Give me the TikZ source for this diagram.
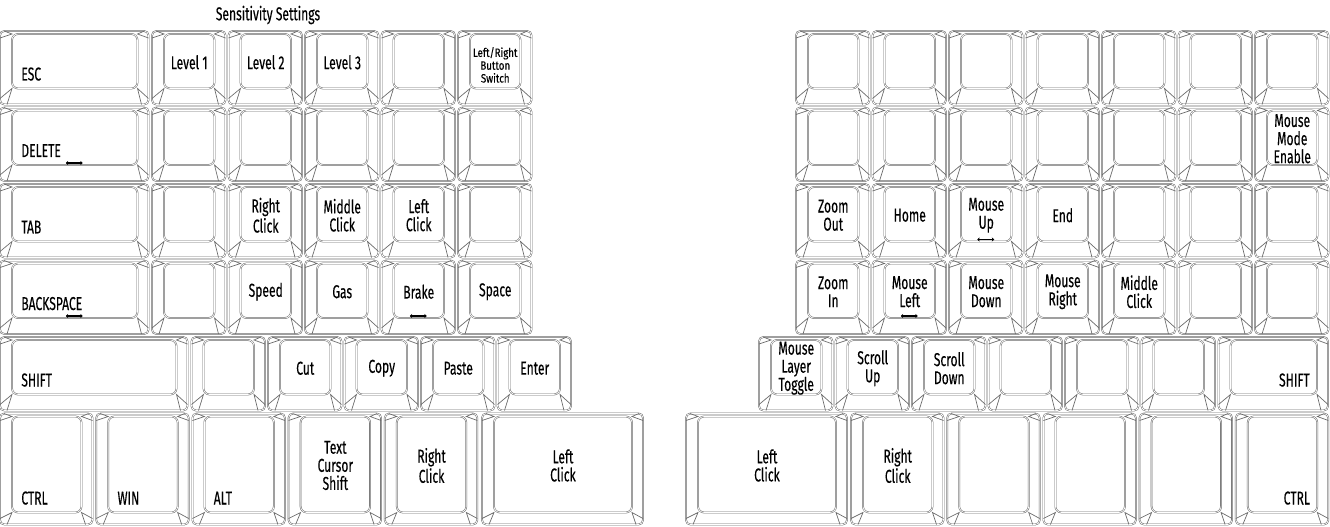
\documentclass[tikz,border=0pt]{standalone}
\usepackage{fontspec}
\setmainfont{Fira Sans}[FakeStretch=0.65, FakeBold=0.3]
\newfontfamily\tinyface{Fira Sans}[FakeStretch=0.8, FakeBold=0.25]
\usetikzlibrary{calc, arrows.meta}

\definecolor{keyline}{gray}{0.42}
\newcommand{\keyfont}{\fontsize{10.6}{10.3}\selectfont}
\newcommand{\tinykeyfont}{\tinyface\fontsize{6.9}{7.3}\selectfont}
\newcommand{\capdrop}{16}

\tikzset{
  capshell/.style={draw=keyline, line width=0.3pt, double=white, double distance=0.4pt,
    rounded corners=2.5pt, inner sep=0pt, outer sep=0pt},
  captop/.style={draw=keyline, line width=0.3pt, double=white, double distance=0.4pt,
    rounded corners=3.5pt},
  capedge/.style={draw=keyline, line width=0.4pt},
  captext/.style={font=\keyfont, align=center, inner sep=0pt},
  homebar/.style={draw=black, line width=0.6pt,
    {Stealth[length=1.4pt,width=2.4pt]}-{Stealth[length=1.4pt,width=2.4pt]}},
}

% one keycap: name, left, top, width, height (in px of the sheet)
\newcommand{\keycap}[5]{%
  \node[capshell, minimum width=#4*0.02cm, minimum height=#5*0.02cm] (#1) at ({#2+#4/2},{#3+#5/2}) {};
  \coordinate (#1tl) at ($(#1.north west)+(12,3)$);
  \coordinate (#1br) at ($(#1.south east)+(-11,-\capdrop)$);
  \draw[captop] (#1tl) rectangle (#1br);
  \draw[capedge] ($(#1.north west)+(0,7)$) -- (#1tl) -- ($(#1.north west)+(4,0)$);
  \draw[capedge] ($(#1.north east)+(0,7)$) -- (#1tl -| #1br) -- ($(#1.north east)+(-4,0)$);
  \draw[capedge] ($(#1.south west)+(0,-6)$) -- (#1tl |- #1br) -- ($(#1.south west)+(7,0)$);
  \draw[capedge] ($(#1.south east)+(0,-6)$) -- (#1br) -- ($(#1.south east)+(-7,0)$);
}
\newcommand{\capmid}[3][]{\node[captext,#1] (#2txt) at ($(#2tl)!0.5!(#2br)+(0,1)$) {#3};}
\newcommand{\capleft}[2]{\node[captext, anchor=base west] (#1txt) at ($(#1.south west)+(21,-\capdrop-8)$) {#2};}
\newcommand{\capright}[2]{\node[captext, anchor=base east] (#1txt) at ($(#1.south east)+(-18,-\capdrop-8)$) {#2};}
\newcommand{\capbar}[1]{\draw[homebar] ($(#1.south)+(-8.5,-18)$) -- ($(#1.south)+(8.5,-18)$);}

\begin{document}
\begin{tikzpicture}[x=0.02cm, y=-0.02cm]
  \useasboundingbox (0,0) rectangle (1330,527);

  % Left half, rows 1-4
  \foreach \r in {0,...,3} {
    \keycap{L\r0}{0}{31+76.5*\r}{148.5}{73.5}
    \foreach \c in {1,...,5} {\keycap{L\r\c}{152+76.5*(\c-1)}{31+76.5*\r}{73.5}{73.5}}
  }
  % Left half, shift row
  \keycap{L40}{0}{337}{187.5}{73.5}
  \foreach \c in {1,...,5} {\keycap{L4\c}{191.5+76.5*(\c-1)}{337}{73.5}{73.5}}
  % Left half, bottom row
  \renewcommand{\capdrop}{12}
  \foreach \c in {0,...,4} {\keycap{L5\c}{96.2*\c}{413.5}{92.5}{111}}
  \keycap{L55}{482}{413.5}{161}{111}
  \renewcommand{\capdrop}{16}

  % Right half, rows 1-4
  \foreach \r in {0,...,3} {
    \foreach \c in {0,...,6} {\keycap{R\r\c}{796+76.5*\c}{31+76.5*\r}{73.5}{73.5}}
  }
  % Right half, shift row
  \foreach \c in {0,...,5} {\keycap{R4\c}{759+76.5*\c}{337}{73.5}{73.5}}
  \keycap{R46}{1218.5}{337}{109.5}{73.5}
  % Right half, bottom row
  \renewcommand{\capdrop}{12}
  \keycap{R50}{686}{413.5}{161}{111}
  \foreach \c in {1,...,5} {\keycap{R5\c}{851+96.2*(\c-1)}{413.5}{92.5}{111}}
  \renewcommand{\capdrop}{16}

  % Labels, left half
  \node[captext] (title) at (268,15) {Sensitivity Settings};
  \capleft{L00}{ESC}
  \capmid{L01}{Level 1}
  \capmid{L02}{Level 2}
  \capmid{L03}{Level 3}
  \capmid[font=\tinykeyfont, yshift=-1.5pt]{L05}{Left/Right\\Button\\Switch}
  \capleft{L10}{DELETE}
  \capbar{L10}
  \capleft{L20}{TAB}
  \capmid{L22}{Right\\Click}
  \capmid{L23}{Middle\\Click}
  \capmid{L24}{Left\\Click}
  \capleft{L30}{BACKSPACE}
  \capbar{L30}
  \capmid{L32}{Speed}
  \capmid{L33}{Gas}
  \capmid{L34}{Brake}
  \capbar{L34}
  \capmid{L35}{Space}
  \capleft{L40}{SHIFT}
  \capmid{L42}{Cut}
  \capmid{L43}{Copy}
  \capmid{L44}{Paste}
  \capmid{L45}{Enter}
  \renewcommand{\capdrop}{12}
  \capleft{L50}{CTRL}
  \capleft{L51}{WIN}
  \capleft{L52}{ALT}
  \capmid{L53}{Text\\Cursor\\Shift}
  \capmid{L54}{Right\\Click}
  \capmid{L55}{Left\\Click}
  \renewcommand{\capdrop}{16}

  % Labels, right half
  \capmid{R16}{Mouse\\Mode\\Enable}
  \capmid{R20}{Zoom\\Out}
  \capmid{R21}{Home}
  \capmid{R22}{Mouse\\Up}
  \capbar{R22}
  \capmid{R23}{End}
  \capmid{R30}{Zoom\\In}
  \capmid{R31}{Mouse\\Left}
  \capbar{R31}
  \capmid{R32}{Mouse\\Down}
  \capmid{R33}{Mouse\\Right}
  \capmid{R34}{Middle\\Click}
  \capmid{R40}{Mouse\\Layer\\Toggle}
  \capmid{R41}{Scroll\\Up}
  \capmid{R42}{Scroll\\Down}
  \capright{R46}{SHIFT}
  \renewcommand{\capdrop}{12}
  \capmid{R50}{Left\\Click}
  \capmid{R51}{Right\\Click}
  \capright{R55}{CTRL}
  \renewcommand{\capdrop}{16}
\end{tikzpicture}
\end{document}
